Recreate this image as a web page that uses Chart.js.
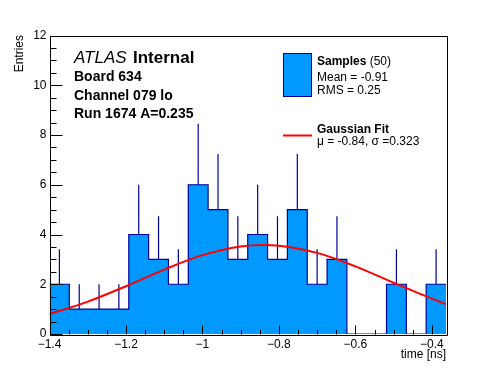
<!DOCTYPE html>
<html>
<head>
<meta charset="utf-8">
<script src="https://cdn.jsdelivr.net/npm/chart.js@4.4.1/dist/chart.umd.min.js"></script>
<style>
  html, body { margin: 0; padding: 0; background: #fff; }
  #wrap { width: 496px; height: 372px; }
</style>
</head>
<body>
<div id="wrap"><canvas id="c" width="496" height="372"></canvas></div>
<script>
// histogram: 20 bins, low edge -1.4
const xMin = -1.4
const xMax = -0.363
const nBins = 20
const counts = [2, 1, 1, 1, 4, 3, 2, 6, 5, 3, 4, 3, 5, 2, 3, 0, 0, 2, 0, 2]
// upper end of the error bars
const errTop = [3.41, 2, 2, 2, 6, 4.73, 3.41, 8.45, 7.24, 4.73, 6, 4.73, 7.24, 3.41, 4.73, null, null, 3.41, null, 3.41]

// gaussian fit curve, read at a few x positions
const fitX = [-1.4, -1.3, -1.2, -1.1, -1.0, -0.9, -0.84, -0.8, -0.7, -0.6, -0.5, -0.4, -0.363]
const fitY = [0.80, 1.30, 1.92, 2.59, 3.17, 3.52, 3.58, 3.55, 3.26, 2.72, 2.06, 1.42, 1.20]

const xTicks = [-1.4, -1.2, -1.0, -0.8, -0.6, -0.4]
const yTicks = [0, 2, 4, 6, 8, 10, 12]

const FONT = '"Liberation Sans", Arial, Helvetica, sans-serif'
const fillBlue = '#0099ff'
const lineBlue = '#000099'

const binW = (xMax - xMin) / nBins
var histPts = []
var errPts = []
for (var i = 0; i < nBins; i++) {
  var lo = xMin + i * binW
  histPts.push({x: lo, y: counts[i]})
  if (errTop[i] != null) {
    var c = lo + binW / 2
    errPts.push({x: c, y: counts[i]})
    errPts.push({x: c, y: errTop[i]})
    errPts.push({x: c, y: null})
  }
}
histPts.push({x: xMax, y: counts[nBins - 1]})

const fitPts = fitX.map((x, i) => ({x: x, y: fitY[i]}))

function fmt(v) {
  var s = (Math.round(v * 10) / 10).toString()
  return s.replace('-', '\u2212')
}

// ROOT-like frame with inward ticks, plus the text boxes
const rootDeco = {
  id: 'rootDeco',
  afterDraw(chart) {
    const ctx = chart.ctx
    const a = chart.chartArea
    const xs = chart.scales.x, ys = chart.scales.y
    ctx.save()
    ctx.strokeStyle = '#000'
    ctx.lineWidth = 1
    ctx.beginPath()
    ctx.rect(Math.round(a.left) + 0.5, Math.round(a.top) + 0.5, Math.round(a.right - a.left), Math.round(a.bottom - a.top))
    ctx.stroke()

    ctx.beginPath()
    var bot = Math.round(a.bottom) + 0.5
    for (var k = 0; k <= 21; k++) {
      var v = -1.4 + k * 0.05
      if (v > xMax + 1e-9) break
      var px = Math.round(xs.getPixelForValue(v)) + 0.5
      var len = (k % 4 === 0) ? 9 : 4.5
      ctx.moveTo(px, bot)
      ctx.lineTo(px, bot - len)
    }
    var left = Math.round(a.left) + 0.5
    for (var k = 0; k <= 24; k++) {
      var v = k * 0.5
      var py = Math.round(ys.getPixelForValue(v)) + 0.5
      var len = (k % 4 === 0) ? 12 : 6
      ctx.moveTo(left, py)
      ctx.lineTo(left + len, py)
    }
    ctx.stroke()

    ctx.fillStyle = '#000'
    ctx.textBaseline = 'alphabetic'
    ctx.textAlign = 'left'
    ctx.font = 'italic 17px ' + FONT
    ctx.fillText('ATLAS', 74, 63)
    ctx.font = 'bold 17px ' + FONT
    ctx.fillText('Internal', 133, 63)
    ctx.font = 'bold 14px ' + FONT
    ctx.fillText('Board 634', 74, 81)
    ctx.fillText('Channel 079 lo', 74, 99.5)
    ctx.fillText('Run 1674 A=0.235', 74, 118)

    // legend
    ctx.fillStyle = fillBlue
    ctx.fillRect(283.5, 53.5, 28, 43)
    ctx.strokeStyle = lineBlue
    ctx.strokeRect(283.5, 53.5, 28, 43)
    ctx.fillStyle = '#000'
    ctx.font = 'bold 12px ' + FONT
    ctx.fillText('Samples', 317, 65)
    var w = ctx.measureText('Samples ').width
    ctx.font = '12px ' + FONT
    ctx.fillText('(50)', 317 + w, 65)
    ctx.font = '12px ' + FONT
    ctx.fillText('Mean = -0.91', 317, 81)
    ctx.fillText('RMS = 0.25', 317, 94)

    ctx.strokeStyle = '#ff0000'
    ctx.lineWidth = 2
    ctx.beginPath()
    ctx.moveTo(283, 135.5)
    ctx.lineTo(312, 135.5)
    ctx.stroke()
    ctx.font = 'bold 12px ' + FONT
    ctx.fillText('Gaussian Fit', 317, 132.5)
    ctx.font = '12px ' + FONT
    ctx.fillText('\u03bc = -0.84, \u03c3 =0.323', 317, 145)

    // axis titles
    ctx.font = '12px ' + FONT
    ctx.textAlign = 'right'
    ctx.fillText('time [ns]', 446, 358)
    ctx.translate(23, 35)
    ctx.rotate(-Math.PI / 2)
    ctx.fillText('Entries', 0, 0)
    ctx.restore()
  }
}

const data = {
  datasets: [
    {
      label: 'Gaussian Fit',
      data: fitPts,
      borderColor: '#ff0000',
      borderWidth: 2,
      pointRadius: 0,
      cubicInterpolationMode: 'monotone',
      fill: false,
      order: 0
    },
    {
      label: 'errors',
      data: errPts,
      borderColor: lineBlue,
      borderWidth: 1.2,
      pointRadius: 0,
      spanGaps: false,
      fill: false,
      order: 1
    },
    {
      label: 'Samples',
      data: histPts,
      stepped: true,
      borderColor: lineBlue,
      borderWidth: 1.2,
      backgroundColor: fillBlue,
      pointRadius: 0,
      fill: 'origin',
      order: 2
    }
  ]
}

const options = {
  responsive: false,
  animation: false,
  layout: { padding: { left: 0, top: 35.5, right: 50, bottom: 0 } },
  plugins: { legend: { display: false }, tooltip: { enabled: false } },
  scales: {
    x: {
      type: 'linear',
      min: xMin,
      max: xMax,
      grid: { display: false, drawTicks: false },
      border: { display: false },
      afterBuildTicks: (s) => { s.ticks = xTicks.map(v => ({value: v})) },
      ticks: {
        padding: 3,
        color: '#000',
        font: { family: FONT, size: 12 },
        maxRotation: 0,
        autoSkip: false,
        callback: (v) => fmt(v)
      },
      afterFit: (s) => { s.height = 38 }
    },
    y: {
      type: 'linear',
      min: 0,
      max: 12,
      grid: { display: false, drawTicks: false },
      border: { display: false },
      afterBuildTicks: (s) => { s.ticks = yTicks.map(v => ({value: v})) },
      ticks: {
        padding: 3,
        color: '#000',
        font: { family: FONT, size: 12 },
        callback: (v) => v.toString()
      },
      afterFit: (s) => { s.width = 49.5 }
    }
  }
}

new Chart(document.getElementById('c'), { type: 'line', data: data, options: options, plugins: [rootDeco] })
</script>
</body>
</html>
